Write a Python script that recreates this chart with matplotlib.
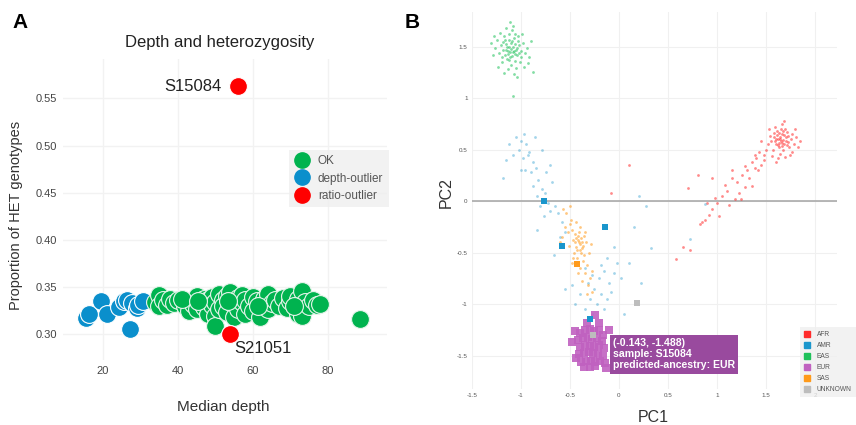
import matplotlib
matplotlib.use("Agg")
from matplotlib import pyplot as plt
from matplotlib.lines import Line2D

plt.rcParams['font.family'] = ['Liberation Sans', 'DejaVu Sans']

# ---------- panel A data ----------
ok_depth = [34, 35, 35, 36, 37, 38, 39, 40, 42, 43, 43, 44, 45, 45, 46, 47, 47, 48, 48, 49,
            49, 50, 50, 50, 51, 51, 52, 52, 53, 53, 54, 54, 55, 55, 56, 56, 57, 57, 58, 58,
            59, 60, 60, 61, 62, 62, 63, 64, 64, 65, 66, 67, 68, 69, 70, 70, 72, 72, 73, 73,
            74, 75, 76, 77, 78, 88.5, 41, 45.5, 53.5, 61.5, 71]
ok_het = [0.334, 0.342, 0.330, 0.336, 0.331, 0.338, 0.333, 0.336, 0.330, 0.335, 0.325, 0.332,
          0.341, 0.327, 0.334, 0.338, 0.329, 0.336, 0.322, 0.340, 0.331, 0.334, 0.320, 0.309,
          0.343, 0.327, 0.337, 0.330, 0.341, 0.324, 0.335, 0.345, 0.331, 0.318, 0.339, 0.327,
          0.334, 0.342, 0.322, 0.336, 0.330, 0.340, 0.325, 0.335, 0.330, 0.319, 0.338, 0.343,
          0.327, 0.333, 0.336, 0.330, 0.339, 0.328, 0.335, 0.341, 0.338, 0.322, 0.346, 0.320,
          0.334, 0.330, 0.336, 0.331, 0.332, 0.316, 0.338, 0.335, 0.335, 0.330, 0.330]
depth_out_depth = [15.5, 16.4, 19.4, 21.2, 24.3, 25.7, 26.5, 27.7, 29.1, 29.5, 30.8, 27.3]
depth_out_het = [0.317, 0.322, 0.335, 0.322, 0.329, 0.335, 0.336, 0.333, 0.328, 0.331, 0.335, 0.306]
ratio_out_depth = [56, 54]
ratio_out_het = [0.563, 0.300]
ratio_out_names = ['S15084', 'S21051']
a_xticks = [20, 40, 60, 80]
a_yticks = [0.30, 0.35, 0.40, 0.45, 0.50, 0.55]

# ---------- panel B data ----------
eas = [(-1.10, 1.48), (-1.12, 1.50), (-1.08, 1.45), (-1.15, 1.52), (-1.05, 1.47), (-1.13, 1.43),
       (-1.09, 1.55), (-1.18, 1.47), (-1.02, 1.51), (-1.11, 1.40), (-1.07, 1.58), (-1.16, 1.56),
       (-1.04, 1.42), (-1.20, 1.51), (-1.00, 1.46), (-1.14, 1.38), (-1.06, 1.36), (-1.22, 1.44),
       (-0.98, 1.53), (-1.12, 1.62), (-1.09, 1.66), (-1.17, 1.60), (-1.03, 1.60), (-1.24, 1.56),
       (-0.96, 1.44), (-1.19, 1.35), (-1.10, 1.32), (-1.01, 1.35), (-1.26, 1.49), (-0.94, 1.49),
       (-1.13, 1.28), (-1.05, 1.29), (-1.21, 1.63), (-1.08, 1.70), (-1.15, 1.68), (-0.99, 1.62),
       (-1.28, 1.42), (-0.92, 1.40), (-1.17, 1.24), (-1.07, 1.23), (-1.30, 1.53), (-0.90, 1.55),
       (-1.23, 1.30), (-0.97, 1.30), (-1.11, 1.74), (-1.04, 1.20), (-1.27, 1.60), (-0.93, 1.34),
       (-1.06, 1.52), (-1.13, 1.46), (-1.09, 1.41), (-1.03, 1.55), (-1.16, 1.42), (-1.08, 1.02),
       (-0.88, 1.25), (-1.19, 1.40), (-1.00, 1.40), (-1.12, 1.56), (-1.07, 1.46), (-1.14, 1.50),
       (-1.11, 1.45), (-1.06, 1.43), (-1.10, 1.53), (-1.04, 1.49), (-1.15, 1.47), (-1.08, 1.50),
       (-1.12, 1.37), (-1.02, 1.44), (-1.18, 1.54), (-1.06, 1.62)]
afr = [(1.65, 0.58), (1.62, 0.60), (1.68, 0.55), (1.60, 0.55), (1.70, 0.62), (1.66, 0.65),
       (1.58, 0.62), (1.72, 0.57), (1.63, 0.52), (1.67, 0.50), (1.55, 0.58), (1.75, 0.60),
       (1.61, 0.68), (1.69, 0.70), (1.57, 0.50), (1.73, 0.52), (1.64, 0.46), (1.52, 0.55),
       (1.78, 0.55), (1.59, 0.72), (1.71, 0.67), (1.54, 0.63), (1.76, 0.65), (1.66, 0.75),
       (1.50, 0.50), (1.80, 0.62), (1.62, 0.42), (1.48, 0.45), (1.74, 0.45), (1.56, 0.44),
       (1.68, 0.78), (1.82, 0.52), (1.53, 0.70), (1.45, 0.58), (1.79, 0.70), (1.60, 0.38),
       (1.64, 0.62), (1.67, 0.59), (1.63, 0.56), (1.70, 0.58), (1.59, 0.58), (1.66, 0.53),
       (1.72, 0.63), (1.61, 0.64), (1.84, 0.58), (1.76, 0.48), (1.43, 0.48), (1.69, 0.43),
       (1.58, 0.66), (1.65, 0.70), (1.64, 0.60), (1.68, 0.64), (1.62, 0.54), (1.66, 0.56),
       (1.71, 0.54), (1.60, 0.60), (1.67, 0.68), (1.63, 0.66),
       (1.40, 0.42), (1.35, 0.38), (1.30, 0.30), (1.38, 0.32), (1.25, 0.25), (1.32, 0.22),
       (1.20, 0.18), (1.28, 0.14), (1.15, 0.22), (1.22, 0.08), (1.10, 0.10), (1.18, 0.02),
       (1.05, 0.05), (1.12, -0.04), (1.00, -0.02), (1.08, 0.16), (0.95, -0.08), (1.02, -0.15),
       (0.92, -0.14), (0.98, 0.03), (1.42, 0.30), (1.35, 0.15), (1.45, 0.35), (1.28, 0.34),
       (1.15, 0.30), (0.88, -0.18), (0.85, -0.20), (0.90, -0.02), (0.72, -0.48), (0.65, -0.45),
       (0.58, -0.56), (0.70, 0.13), (0.80, 0.25), (0.95, 0.22), (0.82, -0.22), (1.48, 0.40),
       (1.38, 0.45), (1.24, 0.02), (0.10, 0.35), (-0.08, 0.08)]
amr = [(-1.12, 0.55), (-1.05, 0.62), (-1.00, 0.58), (-1.02, 0.50), (-0.95, 0.55), (-1.08, 0.45),
       (-0.98, 0.42), (-0.92, 0.48), (-0.88, 0.38), (-1.15, 0.40), (-0.96, 0.30), (-1.00, 0.30),
       (-0.90, 0.28), (-0.85, 0.32), (-0.82, 0.20), (-0.88, 0.15), (-0.78, 0.12), (-0.84, 0.05),
       (-0.75, 0.08), (-0.80, -0.05), (-0.72, -0.02), (-0.70, -0.10), (-0.76, -0.15), (-0.68, 0.18),
       (-0.93, 0.45), (-0.70, 0.35), (-0.78, 0.50), (-1.18, 0.22), (-0.86, 0.62), (-0.97, 0.65),
       (-0.74, 0.28), (-0.65, -0.05), (-0.62, -0.12), (-0.58, -0.20), (-0.83, -0.28), (-0.55, -0.30),
       (-0.60, -0.35), (-0.66, -0.52),
       (-0.35, -0.65), (-0.28, -0.72), (-0.20, -0.75), (-0.15, -0.68), (-0.10, -0.80), (-0.05, -0.70),
       (-0.25, -0.85), (-0.18, -0.90), (-0.30, -0.95), (-0.22, -1.00), (-0.12, -0.95), (-0.08, -0.88),
       (-0.35, -1.05), (-0.27, -1.10), (-0.15, -1.05), (-0.40, -0.90), (-0.48, -0.82), (-0.55, -0.85),
       (-0.02, -0.60), (0.02, -0.75), (-0.45, -1.00), (0.05, -1.10), (0.22, -0.80), (-0.12, -0.55),
       (-0.05, -0.45), (0.15, -0.25), (0.20, 0.05), (0.28, -0.05), (0.33, -0.46), (0.72, -0.37),
       (0.88, -0.03), (0.10, -0.60), (-0.18, -0.62), (-0.32, -0.80)]
sas = [(-0.42, -0.38), (-0.45, -0.32), (-0.40, -0.42), (-0.48, -0.28), (-0.38, -0.46), (-0.50, -0.22),
       (-0.36, -0.52), (-0.44, -0.45), (-0.47, -0.38), (-0.41, -0.30), (-0.39, -0.36), (-0.52, -0.30),
       (-0.34, -0.40), (-0.46, -0.50), (-0.43, -0.55), (-0.37, -0.58), (-0.33, -0.62), (-0.49, -0.18),
       (-0.54, -0.12), (-0.55, -0.25), (-0.35, -0.30), (-0.31, -0.50), (-0.48, -0.60), (-0.40, -0.65),
       (-0.35, -0.70), (-0.30, -0.75), (-0.38, -0.78), (-0.32, -0.82), (-0.28, -0.88), (-0.42, -0.70),
       (-0.44, -0.20), (-0.58, -0.35), (-0.29, -0.42), (-0.51, -0.44), (-0.45, -0.62), (-0.57, -0.08),
       (-0.40, -0.25), (-0.36, -0.34), (-0.43, -0.48), (-0.47, -0.55), (-0.39, -0.50), (-0.41, -0.40),
       (-0.27, -0.68), (-0.33, -0.90), (-0.60, -0.40), (-0.50, -0.05), (-0.42, -0.34), (-0.38, -0.40),
       (-0.45, -0.40), (-0.40, -0.48), (-0.44, -0.36), (-0.37, -0.44)]
eur = [(-0.40, -1.28), (-0.35, -1.25), (-0.30, -1.24), (-0.25, -1.26), (-0.20, -1.25), (-0.16, -1.30),
       (-0.42, -1.35), (-0.37, -1.33), (-0.32, -1.32), (-0.27, -1.34), (-0.22, -1.33), (-0.17, -1.36),
       (-0.40, -1.42), (-0.35, -1.40), (-0.30, -1.41), (-0.25, -1.42), (-0.20, -1.40), (-0.15, -1.43),
       (-0.41, -1.49), (-0.36, -1.48), (-0.31, -1.47), (-0.26, -1.49), (-0.21, -1.48), (-0.16, -1.50),
       (-0.39, -1.56), (-0.34, -1.55), (-0.29, -1.55), (-0.24, -1.56), (-0.19, -1.55), (-0.14, -1.57),
       (-0.36, -1.61), (-0.30, -1.61), (-0.24, -1.60), (-0.45, -1.26), (-0.48, -1.37), (-0.10, -1.25),
       (-0.13, -1.62), (-0.20, -1.18), (-0.33, -1.18), (-0.44, -1.52), (-0.248, -1.107)]
# highlighted study samples (larger squares)
hl_amr = [(-0.766, 0.0), (-0.583, -0.434), (-0.139, -0.252), (-0.299, -1.143)]
hl_sas = [(-0.43, -0.615)]
hl_unknown = [(0.186, -0.993), (-0.268, -1.30)]
tooltip_pt = (-0.143, -1.488)
tooltip_sample = 'S15084'
tooltip_anc = 'EUR'
b_ticks = [-1.5, -1, -0.5, 0, 0.5, 1, 1.5, 2]
b_tick_labels = ['-1.5', '-1', '-0.5', '0', '0.5', '1', '1.5', '2']
b_yticks = [-1.5, -1, -0.5, 0, 0.5, 1, 1.5]
b_ytick_labels = ['-1.5', '-1', '-0.5', '0', '0.5', '1', '1.5']

anc_names = ['AFR', 'AMR', 'EAS', 'EUR', 'SAS', 'UNKNOWN']
anc_colors = ['#ff2b2b', '#1a96cc', '#1fc15a', '#c061c0', '#ff9a1a', '#bdbdbd']

fig = plt.figure(figsize=(8.56, 4.25), dpi=100)

# ================= panel A =================
axA = fig.add_axes([62.7 / 856, 1 - 360 / 425, 324 / 856, 301 / 425])
axA.set_xlim(9.3, 95.7)
axA.set_ylim(0.273, 0.5916)
for s in axA.spines.values():
    s.set_visible(False)
axA.grid(True, color='#f2f2f2', lw=1)
axA.set_axisbelow(True)
axA.set_xticks(a_xticks)
axA.set_yticks(a_yticks)
axA.set_yticklabels(['%.2f' % v for v in a_yticks])
axA.tick_params(length=0, labelsize=8, labelcolor='#444444', pad=4)

green, blue, red = '#00b34f', '#0a8fcc', '#ff0000'
axA.scatter(depth_out_depth, depth_out_het, s=165, c=blue, edgecolors='white', linewidths=0.8, zorder=3)
axA.scatter(ok_depth, ok_het, s=165, c=green, edgecolors='#e8f5ec', linewidths=0.8, zorder=3)
axA.scatter(ratio_out_depth, ratio_out_het, s=165, c=red, edgecolors='white', linewidths=0.8, zorder=4)
axA.annotate(ratio_out_names[0], (ratio_out_depth[0], ratio_out_het[0]), xytext=(-12, 0),
             textcoords='offset points', ha='right', va='center', fontsize=12, color='#222222')
axA.annotate(ratio_out_names[1], (ratio_out_depth[1], ratio_out_het[1]), xytext=(3, -10),
             textcoords='offset points', ha='left', va='center', fontsize=12, color='#222222')

hA = [Line2D([], [], marker='o', ls='', ms=11, mfc=c, mec=c) for c in (green, blue, red)]
legA = fig.legend(hA, ['OK', 'depth-outlier', 'ratio-outlier'], loc='upper left',
                  bbox_to_anchor=(289 / 856, 1 - 150 / 425), fontsize=8.5, frameon=True,
                  fancybox=False, borderaxespad=0, handletextpad=0.7, labelspacing=0.45,
                  borderpad=0.45, handlelength=1.3)
legA.get_frame().set_facecolor('#efefef')
legA.get_frame().set_edgecolor('none')
for t in legA.get_texts():
    t.set_color('#555555')

fig.text(220 / 856, 1 - 42 / 425, 'Depth and heterozygosity', ha='center', va='center',
         fontsize=12, color='#222222')
fig.text(223 / 856, 1 - 407 / 425, 'Median depth', ha='center', va='center',
         fontsize=11, color='#333333')
fig.text(16 / 856, 1 - 215 / 425, 'Proportion of HET genotypes', ha='center', va='center',
         rotation=90, fontsize=10.5, color='#333333')
fig.text(20 / 856, 1 - 22 / 425, 'A', ha='center', va='center', fontsize=15, fontweight='bold')
fig.text(412 / 856, 1 - 22 / 425, 'B', ha='center', va='center', fontsize=15, fontweight='bold')

# ================= panel B =================
axB = fig.add_axes([471.7 / 856, 1 - 389 / 425, 365.3 / 856, 377 / 425])
axB.set_xlim(-1.5, 2.22)
axB.set_ylim(-1.825, 1.835)
for s in axB.spines.values():
    s.set_visible(False)
axB.grid(True, color='#f0f0f0', lw=0.8)
axB.set_axisbelow(True)
axB.set_xticks(b_ticks)
axB.set_xticklabels(b_tick_labels)
axB.set_yticks(b_yticks)
axB.set_yticklabels(b_ytick_labels)
axB.tick_params(length=0, labelsize=4.5, labelcolor='#555555', pad=3)
axB.axhline(0, color='#aaaaaa', lw=1.2, zorder=1)

clouds = [afr, amr, eas, sas]
cloud_cols = [anc_colors[0], anc_colors[1], anc_colors[2], anc_colors[4]]
cloud_alpha = [0.55, 0.4, 0.55, 0.55]
for pts, col, al in zip(clouds, cloud_cols, cloud_alpha):
    axB.scatter([p[0] for p in pts], [p[1] for p in pts], s=4, c=col, alpha=al,
                linewidths=0, zorder=2)
axB.scatter([p[0] for p in eur], [p[1] for p in eur], s=32, marker='s', c=anc_colors[3],
            alpha=0.9, linewidths=0, zorder=3)
for pts, col in ((hl_amr, anc_colors[1]), (hl_sas, anc_colors[4]), (hl_unknown, anc_colors[5])):
    axB.scatter([p[0] for p in pts], [p[1] for p in pts], s=16, marker='s', c=col,
                linewidths=0, zorder=4)

axB.text(-0.06, tooltip_pt[1], '(%.3f, %.3f)\nsample: %s\npredicted-ancestry: %s'
         % (tooltip_pt[0], tooltip_pt[1], tooltip_sample, tooltip_anc),
         ha='left', va='center', fontsize=7.6, fontweight='bold', color='white',
         linespacing=1.15, zorder=6,
         bbox=dict(boxstyle='square,pad=0.3', fc='#994a9e', ec='none'))

hB = [Line2D([], [], marker='s', ls='', ms=4, mfc=c, mec=c) for c in anc_colors]
legB = fig.legend(hB, anc_names, loc='upper left', bbox_to_anchor=(800 / 856, 1 - 327 / 425),
                  fontsize=4.8, frameon=True, fancybox=False, borderaxespad=0,
                  handletextpad=0.9, labelspacing=0.6, borderpad=0.6, handlelength=1.0)
legB.get_frame().set_facecolor('#efefef')
legB.get_frame().set_edgecolor('none')
for t in legB.get_texts():
    t.set_color('#555555')

fig.text(653 / 856, 1 - 417 / 425, 'PC1', ha='center', va='center', fontsize=11.5, color='#333333')
fig.text(446 / 856, 1 - 193 / 425, 'PC2', ha='center', va='center', rotation=90,
         fontsize=11.5, color='#333333')

fig.savefig('out.png', dpi=100, facecolor='white')
